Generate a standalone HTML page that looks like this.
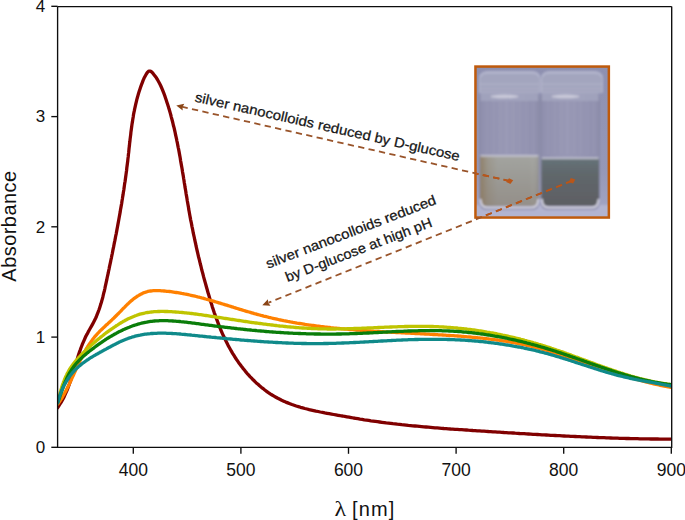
<!DOCTYPE html>
<html><head><meta charset="utf-8"><style>
html,body{margin:0;padding:0;background:#fff;width:685px;height:520px;overflow:hidden;font-family:"Liberation Sans",sans-serif;}
svg{display:block;}
</style></head><body>
<svg width="685" height="520" viewBox="0 0 685 520">
<rect width="685" height="520" fill="#fff"/>
<defs><clipPath id="pc"><rect x="57.6" y="6.6" width="614.1" height="440.7"/></clipPath>
<filter id="bl" x="-5%" y="-5%" width="110%" height="110%"><feGaussianBlur stdDeviation="0.8"/></filter>
<filter id="bl2"><feGaussianBlur stdDeviation="1.6"/></filter>
</defs>
<g clip-path="url(#pc)" fill="none" stroke-width="3.3" stroke-linejoin="round" stroke-linecap="round">
<path d="M57.4 408.0 L58.7 406.1 L59.9 404.2 L61.1 402.3 L62.2 400.4 L63.3 398.4 L64.3 396.4 L65.2 394.4 L66.1 392.4 L67.0 390.3 L67.8 388.3 L68.6 386.2 L69.4 384.1 L70.1 382.0 L70.8 379.9 L71.5 377.8 L72.2 375.6 L72.9 373.5 L73.5 371.4 L74.2 369.2 L74.8 367.1 L75.4 365.0 L76.1 362.8 L76.7 360.7 L77.4 358.5 L78.0 356.4 L78.7 354.3 L79.4 352.2 L80.2 350.1 L80.9 348.0 L81.7 346.0 L82.5 343.9 L83.4 341.9 L84.3 339.8 L85.2 337.8 L86.1 335.8 L87.2 333.9 L88.2 331.9 L89.3 330.0 L90.4 328.0 L91.5 326.1 L92.6 324.1 L93.6 322.2 L94.6 320.2 L95.6 318.2 L96.5 316.2 L97.3 314.1 L98.1 312.1 L98.9 310.0 L99.6 307.9 L100.3 305.8 L101.0 303.6 L101.6 301.5 L102.2 299.4 L102.8 297.2 L103.3 295.0 L103.8 292.9 L104.4 290.7 L104.9 288.5 L105.3 286.3 L105.8 284.1 L106.3 281.9 L106.8 279.7 L107.2 277.5 L107.7 275.3 L108.2 273.2 L108.6 271.0 L109.1 268.8 L109.5 266.6 L110.0 264.4 L110.5 262.2 L110.9 260.0 L111.4 257.8 L111.8 255.7 L112.3 253.5 L112.7 251.3 L113.1 249.1 L113.6 246.9 L114.0 244.7 L114.4 242.6 L114.9 240.4 L115.3 238.2 L115.7 236.0 L116.2 233.8 L116.6 231.6 L117.0 229.4 L117.4 227.3 L117.8 225.1 L118.2 222.9 L118.6 220.7 L119.0 218.5 L119.4 216.3 L119.8 214.1 L120.2 211.9 L120.5 209.8 L120.9 207.6 L121.3 205.4 L121.7 203.2 L122.0 201.0 L122.4 198.8 L122.7 196.6 L123.1 194.4 L123.4 192.2 L123.8 190.0 L124.1 187.8 L124.4 185.6 L124.7 183.4 L125.1 181.2 L125.4 179.0 L125.7 176.8 L126.0 174.6 L126.3 172.4 L126.6 170.2 L126.8 168.0 L127.1 165.7 L127.4 163.5 L127.7 161.3 L127.9 159.1 L128.2 156.9 L128.4 154.6 L128.7 152.4 L128.9 150.2 L129.1 148.0 L129.4 145.8 L129.6 143.5 L129.9 141.3 L130.1 139.1 L130.4 136.9 L130.7 134.6 L130.9 132.4 L131.2 130.2 L131.5 128.0 L131.8 125.8 L132.1 123.6 L132.5 121.4 L132.8 119.2 L133.2 117.0 L133.5 114.8 L133.9 112.6 L134.4 110.4 L134.8 108.3 L135.3 106.1 L135.8 103.9 L136.3 101.8 L136.8 99.6 L137.4 97.5 L138.0 95.4 L138.6 93.2 L139.3 91.1 L140.0 89.0 L140.7 86.8 L141.5 84.7 L142.3 82.6 L143.1 80.4 L144.0 78.3 L145.1 76.2 L146.2 74.2 L147.5 72.3 L148.9 71.1 L150.4 71.1 L151.9 72.2 L153.4 73.9 L154.8 75.7 L156.2 77.6 L157.4 79.5 L158.5 81.5 L159.6 83.5 L160.6 85.5 L161.5 87.5 L162.4 89.6 L163.2 91.7 L164.0 93.7 L164.8 95.8 L165.5 98.0 L166.2 100.1 L166.9 102.2 L167.6 104.3 L168.3 106.4 L168.9 108.6 L169.6 110.7 L170.2 112.9 L170.8 115.0 L171.3 117.1 L171.9 119.3 L172.5 121.5 L173.0 123.6 L173.5 125.8 L174.1 127.9 L174.6 130.1 L175.1 132.3 L175.5 134.5 L176.0 136.6 L176.5 138.8 L176.9 141.0 L177.4 143.2 L177.8 145.4 L178.2 147.5 L178.7 149.7 L179.1 151.9 L179.5 154.1 L179.9 156.3 L180.3 158.5 L180.6 160.7 L181.0 162.9 L181.4 165.1 L181.8 167.3 L182.2 169.5 L182.5 171.7 L182.9 173.9 L183.3 176.1 L183.6 178.3 L184.0 180.5 L184.3 182.7 L184.7 184.9 L185.0 187.1 L185.4 189.3 L185.8 191.5 L186.1 193.7 L186.5 195.9 L186.9 198.1 L187.2 200.3 L187.6 202.5 L188.0 204.7 L188.4 206.9 L188.7 209.1 L189.1 211.3 L189.5 213.5 L189.9 215.7 L190.3 217.9 L190.7 220.1 L191.2 222.3 L191.6 224.4 L192.0 226.6 L192.5 228.8 L192.9 231.0 L193.3 233.2 L193.8 235.3 L194.3 237.5 L194.7 239.7 L195.2 241.9 L195.7 244.0 L196.1 246.2 L196.6 248.4 L197.1 250.5 L197.6 252.7 L198.1 254.9 L198.6 257.0 L199.2 259.2 L199.7 261.3 L200.2 263.5 L200.8 265.7 L201.3 267.8 L201.8 270.0 L202.4 272.1 L203.0 274.3 L203.5 276.4 L204.1 278.6 L204.7 280.7 L205.3 282.9 L205.9 285.0 L206.5 287.2 L207.1 289.3 L207.7 291.5 L208.3 293.6 L209.0 295.8 L209.6 297.9 L210.2 300.0 L210.9 302.2 L211.6 304.3 L212.2 306.4 L212.9 308.6 L213.6 310.7 L214.3 312.8 L215.1 314.9 L215.8 317.0 L216.6 319.1 L217.4 321.2 L218.2 323.3 L219.0 325.4 L219.8 327.4 L220.6 329.5 L221.5 331.5 L222.4 333.6 L223.3 335.6 L224.3 337.6 L225.2 339.6 L226.2 341.6 L227.2 343.6 L228.2 345.6 L229.3 347.5 L230.4 349.5 L231.5 351.4 L232.6 353.3 L233.8 355.2 L235.0 357.1 L236.2 359.0 L237.5 360.9 L238.7 362.7 L240.1 364.5 L241.4 366.3 L242.8 368.1 L244.2 369.8 L245.6 371.6 L247.0 373.3 L248.5 374.9 L250.0 376.6 L251.6 378.2 L253.1 379.8 L254.7 381.3 L256.3 382.9 L258.0 384.3 L259.6 385.8 L261.3 387.2 L263.1 388.6 L264.8 390.0 L266.6 391.3 L268.4 392.6 L270.2 393.8 L272.1 395.0 L274.0 396.1 L275.9 397.2 L277.8 398.3 L279.8 399.3 L281.7 400.3 L283.7 401.2 L285.8 402.1 L287.8 402.9 L289.9 403.7 L292.0 404.5 L294.1 405.2 L296.2 406.0 L298.4 406.6 L300.5 407.3 L302.7 407.9 L304.8 408.5 L307.0 409.0 L309.2 409.6 L311.4 410.1 L313.6 410.6 L315.9 411.1 L318.1 411.5 L320.3 412.0 L322.5 412.4 L324.8 412.9 L327.0 413.3 L329.2 413.7 L331.5 414.1 L333.7 414.5 L335.9 414.9 L338.1 415.3 L340.3 415.7 L342.5 416.0 L344.7 416.4 L346.9 416.8 L349.1 417.2 L351.3 417.6 L353.5 418.0 L355.6 418.3 L357.8 418.7 L360.0 419.1 L362.2 419.4 L364.3 419.8 L366.5 420.1 L368.7 420.4 L370.9 420.8 L373.1 421.1 L375.3 421.4 L377.5 421.7 L379.7 422.0 L381.9 422.3 L384.1 422.6 L386.2 422.9 L388.5 423.1 L390.7 423.4 L392.9 423.7 L395.1 423.9 L397.3 424.2 L399.5 424.4 L401.7 424.7 L403.9 424.9 L406.1 425.1 L408.3 425.4 L410.5 425.6 L412.8 425.8 L415.0 426.0 L417.2 426.2 L419.4 426.4 L421.6 426.6 L423.9 426.8 L426.1 427.0 L428.3 427.2 L430.5 427.4 L432.8 427.6 L435.0 427.8 L437.2 427.9 L439.4 428.1 L441.7 428.3 L443.9 428.5 L446.1 428.6 L448.3 428.8 L450.6 429.0 L452.8 429.1 L455.0 429.3 L457.3 429.4 L459.5 429.6 L461.7 429.7 L464.0 429.9 L466.2 430.0 L468.4 430.2 L470.7 430.3 L472.9 430.5 L475.1 430.6 L477.3 430.8 L479.6 430.9 L481.8 431.1 L484.0 431.2 L486.3 431.3 L488.5 431.5 L490.7 431.6 L492.9 431.8 L495.2 431.9 L497.4 432.1 L499.6 432.2 L501.8 432.3 L504.1 432.5 L506.3 432.6 L508.5 432.8 L510.7 432.9 L513.0 433.0 L515.2 433.2 L517.4 433.3 L519.6 433.5 L521.9 433.6 L524.1 433.7 L526.3 433.9 L528.5 434.0 L530.8 434.1 L533.0 434.3 L535.2 434.4 L537.4 434.5 L539.7 434.6 L541.9 434.8 L544.1 434.9 L546.3 435.0 L548.5 435.1 L550.8 435.3 L553.0 435.4 L555.2 435.5 L557.4 435.6 L559.7 435.7 L561.9 435.9 L564.1 436.0 L566.3 436.1 L568.5 436.2 L570.8 436.3 L573.0 436.4 L575.2 436.5 L577.4 436.6 L579.7 436.7 L581.9 436.8 L584.1 436.9 L586.3 437.0 L588.5 437.1 L590.8 437.2 L593.0 437.3 L595.2 437.4 L597.4 437.5 L599.7 437.6 L601.9 437.7 L604.1 437.7 L606.3 437.8 L608.6 437.9 L610.8 438.0 L613.0 438.1 L615.2 438.1 L617.5 438.2 L619.7 438.3 L621.9 438.3 L624.2 438.4 L626.4 438.5 L628.6 438.5 L630.8 438.6 L633.1 438.6 L635.3 438.7 L637.5 438.7 L639.8 438.8 L642.0 438.8 L644.2 438.9 L646.5 438.9 L648.7 438.9 L650.9 439.0 L653.1 439.0 L655.4 439.0 L657.6 439.0 L659.9 439.1 L662.1 439.1 L664.3 439.1 L666.6 439.1 L668.8 439.1 L671.0 439.1" stroke="#800000"/>
<path d="M58.0 403.9 L58.7 402.8 L59.5 401.7 L60.2 400.6 L61.0 399.4 L61.7 398.3 L62.4 397.1 L63.0 396.0 L63.7 394.8 L64.4 393.6 L65.0 392.4 L65.7 391.2 L66.3 390.0 L66.9 388.8 L67.5 387.6 L68.2 386.4 L68.8 385.1 L69.4 383.9 L69.9 382.7 L70.5 381.4 L71.1 380.2 L71.7 378.9 L72.2 377.7 L72.8 376.4 L73.4 375.2 L74.0 373.9 L74.5 372.7 L75.1 371.4 L75.7 370.2 L76.2 368.9 L76.8 367.6 L77.4 366.4 L77.9 365.1 L78.5 363.9 L79.1 362.7 L79.7 361.4 L80.3 360.2 L80.9 359.0 L81.5 357.7 L82.1 356.5 L82.8 355.3 L83.4 354.1 L84.0 352.9 L84.7 351.7 L85.4 350.5 L86.0 349.4 L86.7 348.2 L87.4 347.1 L88.1 345.9 L88.9 344.8 L89.6 343.7 L90.4 342.6 L91.2 341.5 L92.0 340.4 L92.8 339.3 L93.6 338.2 L94.4 337.2 L95.3 336.2 L96.2 335.2 L97.1 334.1 L98.0 333.2 L99.0 332.2 L99.9 331.2 L100.9 330.2 L101.9 329.3 L102.8 328.3 L103.8 327.4 L104.8 326.5 L105.8 325.5 L106.8 324.6 L107.9 323.7 L108.9 322.7 L109.9 321.8 L110.9 320.8 L111.9 319.9 L112.9 318.9 L113.9 318.0 L114.9 317.0 L115.9 316.0 L116.9 315.0 L117.9 314.1 L118.8 313.1 L119.8 312.1 L120.8 311.1 L121.7 310.1 L122.7 309.0 L123.7 308.1 L124.7 307.1 L125.6 306.1 L126.6 305.1 L127.6 304.1 L128.7 303.2 L129.7 302.2 L130.7 301.3 L131.8 300.4 L132.8 299.5 L133.9 298.7 L135.0 297.9 L136.1 297.1 L137.2 296.3 L138.4 295.6 L139.5 294.9 L140.7 294.3 L141.9 293.7 L143.1 293.1 L144.3 292.6 L145.5 292.2 L146.8 291.8 L148.0 291.4 L149.3 291.2 L150.6 291.0 L152.0 290.8 L153.3 290.7 L154.6 290.6 L156.0 290.6 L157.3 290.6 L158.7 290.7 L160.1 290.7 L161.4 290.8 L162.8 290.9 L164.1 291.0 L165.5 291.1 L166.8 291.3 L168.2 291.4 L169.5 291.5 L170.9 291.7 L172.2 291.9 L173.6 292.1 L174.9 292.3 L176.3 292.5 L177.6 292.7 L179.0 292.9 L180.3 293.1 L181.6 293.4 L183.0 293.6 L184.3 293.9 L185.7 294.1 L187.0 294.4 L188.3 294.7 L189.7 295.0 L191.0 295.3 L192.3 295.6 L193.6 295.9 L195.0 296.2 L196.3 296.5 L197.6 296.9 L199.0 297.2 L200.3 297.5 L201.6 297.9 L202.9 298.2 L204.3 298.6 L205.6 299.0 L206.9 299.3 L208.2 299.7 L209.5 300.1 L210.9 300.4 L212.2 300.8 L213.5 301.2 L214.8 301.6 L216.1 302.0 L217.5 302.4 L218.8 302.8 L220.1 303.2 L221.4 303.6 L222.7 304.0 L224.0 304.4 L225.4 304.8 L226.7 305.2 L228.0 305.6 L229.3 306.0 L230.6 306.4 L231.9 306.8 L233.3 307.2 L234.6 307.7 L235.9 308.1 L237.2 308.5 L238.5 308.9 L239.8 309.3 L241.2 309.7 L242.5 310.1 L243.8 310.5 L245.1 310.9 L246.4 311.3 L247.7 311.7 L249.1 312.0 L250.4 312.4 L251.7 312.8 L253.0 313.2 L254.3 313.6 L255.7 313.9 L257.0 314.3 L258.3 314.7 L259.6 315.0 L261.0 315.4 L262.3 315.7 L263.6 316.1 L265.0 316.4 L266.3 316.7 L267.6 317.0 L268.9 317.4 L270.3 317.7 L271.6 318.0 L272.9 318.3 L274.3 318.6 L275.6 318.9 L276.9 319.2 L278.3 319.5 L279.6 319.8 L280.9 320.0 L282.3 320.3 L283.6 320.6 L285.0 320.8 L286.3 321.1 L287.6 321.4 L289.0 321.6 L290.3 321.9 L291.7 322.1 L293.0 322.4 L294.3 322.6 L295.7 322.8 L297.0 323.1 L298.4 323.3 L299.7 323.5 L301.1 323.7 L302.4 323.9 L303.8 324.1 L305.1 324.4 L306.4 324.6 L307.8 324.8 L309.1 325.0 L310.5 325.1 L311.8 325.3 L313.2 325.5 L314.5 325.7 L315.9 325.9 L317.2 326.1 L318.6 326.2 L319.9 326.4 L321.3 326.6 L322.7 326.7 L324.0 326.9 L325.4 327.1 L326.7 327.2 L328.1 327.4 L329.4 327.5 L330.8 327.7 L332.1 327.8 L333.5 328.0 L334.9 328.1 L336.2 328.2 L337.6 328.4 L338.9 328.5 L340.3 328.6 L341.6 328.8 L343.0 328.9 L344.4 329.0 L345.7 329.1 L347.1 329.2 L348.4 329.4 L349.8 329.5 L351.2 329.6 L352.5 329.7 L353.9 329.8 L355.3 329.9 L356.6 330.0 L358.0 330.1 L359.3 330.2 L360.7 330.3 L362.1 330.4 L363.4 330.5 L364.8 330.6 L366.2 330.7 L367.5 330.8 L368.9 330.9 L370.3 331.0 L371.6 331.1 L373.0 331.2 L374.4 331.3 L375.7 331.3 L377.1 331.4 L378.5 331.5 L379.8 331.6 L381.2 331.7 L382.5 331.7 L383.9 331.8 L385.3 331.9 L386.6 332.0 L388.0 332.1 L389.4 332.1 L390.8 332.2 L392.1 332.3 L393.5 332.4 L394.9 332.4 L396.2 332.5 L397.6 332.6 L399.0 332.6 L400.3 332.7 L401.7 332.8 L403.1 332.9 L404.4 332.9 L405.8 333.0 L407.2 333.1 L408.5 333.1 L409.9 333.2 L411.3 333.3 L412.6 333.4 L414.0 333.4 L415.4 333.5 L416.7 333.6 L418.1 333.6 L419.5 333.7 L420.8 333.8 L422.2 333.9 L423.6 333.9 L424.9 334.0 L426.3 334.1 L427.7 334.1 L429.0 334.2 L430.4 334.3 L431.8 334.4 L433.2 334.5 L434.5 334.5 L435.9 334.6 L437.3 334.7 L438.6 334.8 L440.0 334.9 L441.4 334.9 L442.7 335.0 L444.1 335.1 L445.4 335.2 L446.8 335.3 L448.2 335.4 L449.5 335.5 L450.9 335.6 L452.3 335.7 L453.6 335.7 L455.0 335.8 L456.4 335.9 L457.7 336.0 L459.1 336.1 L460.5 336.2 L461.8 336.4 L463.2 336.5 L464.5 336.6 L465.9 336.7 L467.3 336.8 L468.6 336.9 L470.0 337.0 L471.4 337.1 L472.7 337.3 L474.1 337.4 L475.4 337.5 L476.8 337.6 L478.2 337.8 L479.5 337.9 L480.9 338.1 L482.2 338.2 L483.6 338.3 L484.9 338.5 L486.3 338.6 L487.7 338.8 L489.0 339.0 L490.4 339.1 L491.7 339.3 L493.1 339.5 L494.4 339.6 L495.8 339.8 L497.1 340.0 L498.5 340.2 L499.8 340.4 L501.2 340.6 L502.5 340.8 L503.9 341.0 L505.2 341.2 L506.6 341.4 L507.9 341.6 L509.3 341.8 L510.6 342.1 L511.9 342.3 L513.3 342.5 L514.6 342.8 L516.0 343.0 L517.3 343.3 L518.6 343.6 L520.0 343.8 L521.3 344.1 L522.7 344.4 L524.0 344.7 L525.3 345.0 L526.7 345.3 L528.0 345.6 L529.3 345.9 L530.6 346.2 L532.0 346.5 L533.3 346.8 L534.6 347.2 L536.0 347.5 L537.3 347.9 L538.6 348.2 L539.9 348.6 L541.2 348.9 L542.6 349.3 L543.9 349.7 L545.2 350.0 L546.5 350.4 L547.8 350.8 L549.2 351.2 L550.5 351.6 L551.8 352.0 L553.1 352.4 L554.4 352.8 L555.7 353.2 L557.0 353.6 L558.3 354.0 L559.7 354.4 L561.0 354.8 L562.3 355.2 L563.6 355.6 L564.9 356.1 L566.2 356.5 L567.5 356.9 L568.8 357.3 L570.1 357.8 L571.4 358.2 L572.7 358.6 L574.0 359.1 L575.3 359.5 L576.6 359.9 L577.9 360.4 L579.2 360.8 L580.5 361.3 L581.8 361.7 L583.1 362.1 L584.4 362.6 L585.7 363.0 L587.0 363.4 L588.3 363.9 L589.6 364.3 L590.9 364.8 L592.2 365.2 L593.5 365.6 L594.7 366.1 L596.0 366.5 L597.3 367.0 L598.6 367.4 L599.9 367.8 L601.2 368.3 L602.5 368.7 L603.8 369.1 L605.1 369.6 L606.4 370.0 L607.7 370.4 L609.0 370.9 L610.3 371.3 L611.6 371.7 L612.9 372.1 L614.2 372.5 L615.5 373.0 L616.8 373.4 L618.1 373.8 L619.4 374.2 L620.7 374.6 L622.0 375.0 L623.3 375.4 L624.6 375.8 L625.9 376.2 L627.2 376.6 L628.5 377.0 L629.8 377.4 L631.1 377.8 L632.4 378.2 L633.7 378.5 L635.1 378.9 L636.4 379.3 L637.7 379.7 L639.0 380.0 L640.3 380.4 L641.6 380.7 L642.9 381.1 L644.3 381.4 L645.6 381.8 L646.9 382.1 L648.2 382.5 L649.6 382.8 L650.9 383.1 L652.2 383.4 L653.6 383.8 L654.9 384.1 L656.2 384.4 L657.6 384.7 L658.9 385.0 L660.2 385.3 L661.6 385.6 L662.9 385.8 L664.3 386.1 L665.6 386.4 L667.0 386.6 L668.3 386.9 L669.7 387.1 L671.0 387.4" stroke="#ff8000"/>
<path d="M58.3 400.2 L58.6 398.9 L58.9 397.5 L59.2 396.2 L59.6 394.9 L59.9 393.6 L60.3 392.3 L60.6 391.0 L61.0 389.7 L61.4 388.4 L61.8 387.1 L62.2 385.8 L62.6 384.5 L63.1 383.3 L63.5 382.0 L64.0 380.8 L64.5 379.5 L65.0 378.3 L65.5 377.1 L66.1 375.9 L66.7 374.7 L67.2 373.5 L67.9 372.3 L68.5 371.2 L69.1 370.1 L69.8 368.9 L70.5 367.8 L71.3 366.8 L72.0 365.7 L72.8 364.6 L73.6 363.6 L74.4 362.5 L75.2 361.5 L76.0 360.5 L76.9 359.5 L77.8 358.5 L78.7 357.5 L79.6 356.6 L80.5 355.6 L81.4 354.7 L82.3 353.7 L83.2 352.8 L84.2 351.8 L85.2 350.9 L86.1 350.0 L87.1 349.1 L88.0 348.2 L89.0 347.3 L90.0 346.4 L91.0 345.5 L92.0 344.6 L93.0 343.7 L94.0 342.8 L95.0 341.9 L96.0 341.1 L97.0 340.2 L98.0 339.4 L99.1 338.5 L100.1 337.7 L101.1 336.8 L102.2 336.0 L103.2 335.2 L104.3 334.3 L105.3 333.5 L106.4 332.7 L107.5 331.9 L108.6 331.1 L109.6 330.4 L110.7 329.6 L111.8 328.8 L112.9 328.1 L114.0 327.3 L115.1 326.6 L116.2 325.8 L117.4 325.1 L118.5 324.4 L119.6 323.7 L120.7 323.0 L121.9 322.3 L123.0 321.6 L124.2 321.0 L125.4 320.3 L126.5 319.7 L127.7 319.1 L128.9 318.5 L130.1 318.0 L131.3 317.4 L132.5 316.9 L133.7 316.4 L134.9 315.9 L136.2 315.5 L137.4 315.0 L138.6 314.6 L139.9 314.2 L141.2 313.9 L142.4 313.6 L143.7 313.3 L145.0 313.0 L146.3 312.7 L147.6 312.5 L148.9 312.3 L150.2 312.1 L151.5 312.0 L152.8 311.9 L154.1 311.7 L155.5 311.6 L156.8 311.6 L158.1 311.5 L159.5 311.5 L160.8 311.4 L162.1 311.4 L163.5 311.4 L164.8 311.5 L166.2 311.5 L167.5 311.5 L168.8 311.6 L170.2 311.6 L171.5 311.7 L172.9 311.8 L174.2 311.9 L175.5 312.0 L176.9 312.1 L178.2 312.2 L179.5 312.3 L180.9 312.4 L182.2 312.5 L183.5 312.6 L184.8 312.8 L186.2 312.9 L187.5 313.1 L188.8 313.2 L190.1 313.4 L191.5 313.5 L192.8 313.7 L194.1 313.9 L195.4 314.0 L196.7 314.2 L198.1 314.4 L199.4 314.6 L200.7 314.7 L202.0 314.9 L203.3 315.1 L204.7 315.3 L206.0 315.5 L207.3 315.7 L208.6 315.9 L209.9 316.1 L211.2 316.3 L212.6 316.5 L213.9 316.7 L215.2 316.9 L216.5 317.1 L217.8 317.3 L219.1 317.5 L220.5 317.7 L221.8 317.9 L223.1 318.1 L224.4 318.3 L225.7 318.5 L227.0 318.7 L228.4 318.9 L229.7 319.1 L231.0 319.3 L232.3 319.5 L233.6 319.7 L234.9 319.9 L236.3 320.1 L237.6 320.3 L238.9 320.5 L240.2 320.7 L241.5 320.9 L242.8 321.1 L244.2 321.3 L245.5 321.5 L246.8 321.7 L248.1 321.9 L249.4 322.1 L250.8 322.3 L252.1 322.5 L253.4 322.6 L254.7 322.8 L256.0 323.0 L257.4 323.2 L258.7 323.4 L260.0 323.5 L261.3 323.7 L262.6 323.9 L264.0 324.1 L265.3 324.2 L266.6 324.4 L267.9 324.6 L269.2 324.7 L270.6 324.9 L271.9 325.0 L273.2 325.2 L274.5 325.4 L275.8 325.5 L277.2 325.7 L278.5 325.8 L279.8 326.0 L281.1 326.1 L282.5 326.2 L283.8 326.4 L285.1 326.5 L286.4 326.6 L287.7 326.8 L289.1 326.9 L290.4 327.0 L291.7 327.1 L293.0 327.2 L294.4 327.4 L295.7 327.5 L297.0 327.6 L298.3 327.7 L299.7 327.8 L301.0 327.9 L302.3 328.0 L303.6 328.0 L305.0 328.1 L306.3 328.2 L307.6 328.3 L308.9 328.4 L310.3 328.4 L311.6 328.5 L312.9 328.6 L314.3 328.6 L315.6 328.7 L316.9 328.7 L318.2 328.8 L319.6 328.8 L320.9 328.8 L322.2 328.9 L323.6 328.9 L324.9 328.9 L326.2 328.9 L327.5 329.0 L328.9 329.0 L330.2 329.0 L331.5 329.0 L332.9 329.0 L334.2 329.0 L335.5 329.0 L336.9 328.9 L338.2 328.9 L339.5 328.9 L340.9 328.9 L342.2 328.9 L343.5 328.8 L344.9 328.8 L346.2 328.8 L347.5 328.7 L348.9 328.7 L350.2 328.7 L351.5 328.6 L352.9 328.6 L354.2 328.5 L355.5 328.5 L356.9 328.4 L358.2 328.4 L359.5 328.3 L360.9 328.3 L362.2 328.2 L363.5 328.2 L364.9 328.1 L366.2 328.1 L367.5 328.0 L368.9 327.9 L370.2 327.9 L371.5 327.8 L372.9 327.8 L374.2 327.7 L375.5 327.6 L376.9 327.6 L378.2 327.5 L379.5 327.5 L380.9 327.4 L382.2 327.3 L383.5 327.3 L384.9 327.2 L386.2 327.2 L387.5 327.1 L388.9 327.1 L390.2 327.0 L391.6 327.0 L392.9 326.9 L394.2 326.9 L395.6 326.8 L396.9 326.8 L398.2 326.7 L399.6 326.7 L400.9 326.6 L402.2 326.6 L403.6 326.6 L404.9 326.5 L406.2 326.5 L407.6 326.5 L408.9 326.4 L410.2 326.4 L411.6 326.4 L412.9 326.4 L414.2 326.4 L415.6 326.3 L416.9 326.3 L418.2 326.3 L419.5 326.3 L420.9 326.3 L422.2 326.3 L423.5 326.3 L424.9 326.4 L426.2 326.4 L427.5 326.4 L428.9 326.4 L430.2 326.5 L431.5 326.5 L432.9 326.5 L434.2 326.6 L435.5 326.6 L436.8 326.7 L438.2 326.7 L439.5 326.8 L440.8 326.9 L442.2 326.9 L443.5 327.0 L444.8 327.1 L446.1 327.2 L447.5 327.3 L448.8 327.4 L450.1 327.5 L451.4 327.6 L452.8 327.7 L454.1 327.8 L455.4 327.9 L456.7 328.0 L458.1 328.2 L459.4 328.3 L460.7 328.4 L462.0 328.6 L463.3 328.7 L464.7 328.9 L466.0 329.0 L467.3 329.2 L468.6 329.3 L469.9 329.5 L471.3 329.7 L472.6 329.9 L473.9 330.0 L475.2 330.2 L476.5 330.4 L477.8 330.6 L479.2 330.8 L480.5 331.0 L481.8 331.2 L483.1 331.4 L484.4 331.6 L485.7 331.8 L487.0 332.1 L488.3 332.3 L489.6 332.5 L491.0 332.8 L492.3 333.0 L493.6 333.2 L494.9 333.5 L496.2 333.7 L497.5 334.0 L498.8 334.3 L500.1 334.5 L501.4 334.8 L502.7 335.1 L504.0 335.3 L505.3 335.6 L506.6 335.9 L507.9 336.2 L509.2 336.5 L510.5 336.8 L511.8 337.1 L513.1 337.4 L514.4 337.7 L515.7 338.0 L517.0 338.3 L518.3 338.6 L519.6 338.9 L520.8 339.3 L522.1 339.6 L523.4 339.9 L524.7 340.3 L526.0 340.6 L527.3 341.0 L528.6 341.3 L529.8 341.7 L531.1 342.0 L532.4 342.4 L533.7 342.8 L535.0 343.1 L536.3 343.5 L537.5 343.9 L538.8 344.3 L540.1 344.6 L541.4 345.0 L542.6 345.4 L543.9 345.8 L545.2 346.2 L546.4 346.6 L547.7 347.0 L549.0 347.4 L550.2 347.8 L551.5 348.3 L552.8 348.7 L554.0 349.1 L555.3 349.5 L556.6 350.0 L557.8 350.4 L559.1 350.8 L560.3 351.3 L561.6 351.7 L562.9 352.1 L564.1 352.6 L565.4 353.0 L566.6 353.5 L567.9 353.9 L569.1 354.4 L570.4 354.8 L571.6 355.3 L572.9 355.8 L574.1 356.2 L575.4 356.7 L576.6 357.1 L577.9 357.6 L579.1 358.1 L580.4 358.5 L581.6 359.0 L582.9 359.4 L584.1 359.9 L585.4 360.4 L586.6 360.8 L587.9 361.3 L589.1 361.8 L590.4 362.2 L591.6 362.7 L592.9 363.1 L594.1 363.6 L595.4 364.1 L596.6 364.5 L597.9 365.0 L599.1 365.4 L600.4 365.9 L601.7 366.3 L602.9 366.8 L604.2 367.2 L605.4 367.7 L606.7 368.1 L607.9 368.6 L609.2 369.0 L610.4 369.4 L611.7 369.9 L613.0 370.3 L614.2 370.7 L615.5 371.1 L616.7 371.6 L618.0 372.0 L619.3 372.4 L620.5 372.8 L621.8 373.2 L623.1 373.6 L624.3 374.0 L625.6 374.4 L626.9 374.8 L628.1 375.2 L629.4 375.6 L630.7 376.0 L632.0 376.3 L633.2 376.7 L634.5 377.1 L635.8 377.4 L637.1 377.8 L638.4 378.1 L639.7 378.5 L640.9 378.8 L642.2 379.1 L643.5 379.4 L644.8 379.8 L646.1 380.1 L647.4 380.4 L648.7 380.7 L650.0 381.0 L651.3 381.3 L652.6 381.5 L653.9 381.8 L655.2 382.1 L656.5 382.3 L657.9 382.6 L659.2 382.8 L660.5 383.1 L661.8 383.3 L663.1 383.5 L664.5 383.7 L665.8 383.9 L667.1 384.1 L668.4 384.3 L669.8 384.5 L671.1 384.6" stroke="#bfc400"/>
<path d="M58.3 401.2 L58.7 399.9 L59.2 398.7 L59.6 397.4 L60.0 396.1 L60.4 394.9 L60.9 393.6 L61.3 392.4 L61.7 391.1 L62.2 389.9 L62.6 388.6 L63.1 387.4 L63.5 386.1 L64.0 384.9 L64.5 383.7 L65.0 382.4 L65.5 381.2 L66.1 380.0 L66.6 378.8 L67.2 377.6 L67.7 376.5 L68.3 375.3 L68.9 374.1 L69.6 373.0 L70.2 371.9 L70.9 370.8 L71.6 369.7 L72.3 368.6 L73.0 367.6 L73.8 366.5 L74.6 365.5 L75.4 364.5 L76.2 363.5 L77.1 362.5 L78.0 361.6 L78.9 360.6 L79.8 359.7 L80.7 358.8 L81.7 357.9 L82.6 357.0 L83.6 356.1 L84.6 355.2 L85.6 354.4 L86.6 353.5 L87.7 352.7 L88.7 351.8 L89.7 351.0 L90.8 350.2 L91.8 349.4 L92.9 348.6 L94.0 347.8 L95.0 347.0 L96.1 346.2 L97.2 345.4 L98.2 344.7 L99.3 343.9 L100.4 343.1 L101.5 342.4 L102.6 341.6 L103.7 340.9 L104.8 340.2 L105.9 339.4 L107.0 338.7 L108.1 338.0 L109.2 337.3 L110.4 336.6 L111.5 336.0 L112.6 335.3 L113.8 334.7 L114.9 334.0 L116.1 333.4 L117.2 332.8 L118.4 332.1 L119.6 331.5 L120.8 331.0 L121.9 330.4 L123.1 329.8 L124.3 329.3 L125.5 328.7 L126.7 328.2 L127.9 327.7 L129.2 327.2 L130.4 326.7 L131.6 326.3 L132.9 325.8 L134.1 325.4 L135.3 325.0 L136.6 324.6 L137.8 324.2 L139.1 323.8 L140.4 323.5 L141.6 323.2 L142.9 322.9 L144.2 322.6 L145.4 322.3 L146.7 322.1 L148.0 321.8 L149.3 321.6 L150.6 321.4 L151.9 321.3 L153.2 321.1 L154.5 321.0 L155.8 320.9 L157.1 320.8 L158.4 320.8 L159.7 320.7 L161.0 320.7 L162.3 320.7 L163.6 320.6 L164.9 320.7 L166.2 320.7 L167.6 320.7 L168.9 320.8 L170.2 320.8 L171.5 320.9 L172.8 321.0 L174.2 321.1 L175.5 321.2 L176.8 321.3 L178.1 321.4 L179.5 321.5 L180.8 321.7 L182.1 321.8 L183.4 321.9 L184.8 322.1 L186.1 322.2 L187.4 322.4 L188.7 322.6 L190.1 322.7 L191.4 322.9 L192.7 323.1 L194.0 323.2 L195.4 323.4 L196.7 323.6 L198.0 323.7 L199.3 323.9 L200.6 324.1 L201.9 324.3 L203.3 324.4 L204.6 324.6 L205.9 324.8 L207.2 324.9 L208.5 325.1 L209.8 325.3 L211.1 325.4 L212.4 325.6 L213.7 325.8 L215.0 326.0 L216.4 326.1 L217.7 326.3 L219.0 326.5 L220.3 326.6 L221.6 326.8 L222.9 326.9 L224.2 327.1 L225.5 327.3 L226.8 327.4 L228.1 327.6 L229.4 327.7 L230.7 327.9 L232.0 328.1 L233.3 328.2 L234.6 328.4 L235.9 328.5 L237.2 328.7 L238.5 328.8 L239.9 328.9 L241.2 329.1 L242.5 329.2 L243.8 329.4 L245.1 329.5 L246.4 329.6 L247.7 329.8 L249.0 329.9 L250.3 330.0 L251.6 330.2 L252.9 330.3 L254.2 330.4 L255.5 330.5 L256.8 330.7 L258.2 330.8 L259.5 330.9 L260.8 331.0 L262.1 331.1 L263.4 331.2 L264.7 331.4 L266.0 331.5 L267.3 331.6 L268.6 331.7 L269.9 331.8 L271.3 331.9 L272.6 332.0 L273.9 332.1 L275.2 332.2 L276.5 332.3 L277.8 332.3 L279.1 332.4 L280.4 332.5 L281.7 332.6 L283.1 332.7 L284.4 332.8 L285.7 332.8 L287.0 332.9 L288.3 333.0 L289.6 333.1 L290.9 333.1 L292.3 333.2 L293.6 333.3 L294.9 333.3 L296.2 333.4 L297.5 333.4 L298.8 333.5 L300.1 333.5 L301.5 333.6 L302.8 333.6 L304.1 333.7 L305.4 333.7 L306.7 333.8 L308.0 333.8 L309.3 333.8 L310.7 333.9 L312.0 333.9 L313.3 333.9 L314.6 334.0 L315.9 334.0 L317.2 334.0 L318.6 334.0 L319.9 334.0 L321.2 334.1 L322.5 334.1 L323.8 334.1 L325.1 334.1 L326.5 334.1 L327.8 334.1 L329.1 334.1 L330.4 334.1 L331.7 334.1 L333.0 334.1 L334.4 334.1 L335.7 334.1 L337.0 334.0 L338.3 334.0 L339.6 334.0 L341.0 334.0 L342.3 333.9 L343.6 333.9 L344.9 333.9 L346.2 333.9 L347.5 333.8 L348.9 333.8 L350.2 333.7 L351.5 333.7 L352.8 333.6 L354.1 333.6 L355.5 333.5 L356.8 333.5 L358.1 333.4 L359.4 333.4 L360.7 333.3 L362.1 333.3 L363.4 333.2 L364.7 333.1 L366.0 333.1 L367.3 333.0 L368.7 333.0 L370.0 332.9 L371.3 332.8 L372.6 332.8 L373.9 332.7 L375.3 332.6 L376.6 332.6 L377.9 332.5 L379.2 332.4 L380.5 332.3 L381.9 332.3 L383.2 332.2 L384.5 332.1 L385.8 332.1 L387.1 332.0 L388.5 331.9 L389.8 331.9 L391.1 331.8 L392.4 331.7 L393.7 331.7 L395.1 331.6 L396.4 331.5 L397.7 331.5 L399.0 331.4 L400.3 331.4 L401.7 331.3 L403.0 331.3 L404.3 331.2 L405.6 331.1 L406.9 331.1 L408.3 331.0 L409.6 331.0 L410.9 331.0 L412.2 330.9 L413.5 330.9 L414.8 330.8 L416.2 330.8 L417.5 330.8 L418.8 330.7 L420.1 330.7 L421.4 330.7 L422.8 330.7 L424.1 330.6 L425.4 330.6 L426.7 330.6 L428.0 330.6 L429.3 330.6 L430.7 330.6 L432.0 330.6 L433.3 330.6 L434.6 330.6 L435.9 330.6 L437.2 330.6 L438.5 330.7 L439.9 330.7 L441.2 330.7 L442.5 330.8 L443.8 330.8 L445.1 330.8 L446.4 330.9 L447.7 330.9 L449.1 331.0 L450.4 331.1 L451.7 331.1 L453.0 331.2 L454.3 331.3 L455.6 331.4 L456.9 331.4 L458.2 331.5 L459.5 331.6 L460.9 331.7 L462.2 331.8 L463.5 332.0 L464.8 332.1 L466.1 332.2 L467.4 332.3 L468.7 332.5 L470.0 332.6 L471.3 332.7 L472.6 332.9 L473.9 333.0 L475.2 333.2 L476.5 333.3 L477.9 333.5 L479.2 333.7 L480.5 333.8 L481.8 334.0 L483.1 334.2 L484.4 334.4 L485.7 334.6 L487.0 334.8 L488.3 335.0 L489.6 335.2 L490.9 335.4 L492.2 335.6 L493.5 335.8 L494.8 336.1 L496.1 336.3 L497.4 336.5 L498.6 336.7 L499.9 337.0 L501.2 337.2 L502.5 337.5 L503.8 337.7 L505.1 338.0 L506.4 338.2 L507.7 338.5 L509.0 338.8 L510.3 339.1 L511.6 339.3 L512.8 339.6 L514.1 339.9 L515.4 340.2 L516.7 340.5 L518.0 340.8 L519.3 341.1 L520.6 341.4 L521.8 341.7 L523.1 342.0 L524.4 342.3 L525.7 342.6 L526.9 343.0 L528.2 343.3 L529.5 343.6 L530.8 344.0 L532.0 344.3 L533.3 344.7 L534.6 345.0 L535.9 345.3 L537.1 345.7 L538.4 346.1 L539.7 346.4 L540.9 346.8 L542.2 347.2 L543.5 347.5 L544.7 347.9 L546.0 348.3 L547.3 348.7 L548.5 349.1 L549.8 349.4 L551.0 349.8 L552.3 350.2 L553.5 350.6 L554.8 351.0 L556.1 351.4 L557.3 351.9 L558.6 352.3 L559.8 352.7 L561.1 353.1 L562.3 353.5 L563.6 353.9 L564.8 354.4 L566.1 354.8 L567.3 355.2 L568.5 355.6 L569.8 356.1 L571.0 356.5 L572.3 356.9 L573.5 357.4 L574.8 357.8 L576.0 358.2 L577.3 358.7 L578.5 359.1 L579.7 359.6 L581.0 360.0 L582.2 360.4 L583.5 360.9 L584.7 361.3 L586.0 361.7 L587.2 362.2 L588.4 362.6 L589.7 363.1 L590.9 363.5 L592.2 363.9 L593.4 364.4 L594.7 364.8 L595.9 365.2 L597.1 365.7 L598.4 366.1 L599.6 366.5 L600.9 367.0 L602.1 367.4 L603.4 367.8 L604.6 368.3 L605.9 368.7 L607.1 369.1 L608.4 369.5 L609.6 369.9 L610.9 370.3 L612.1 370.8 L613.4 371.2 L614.6 371.6 L615.9 372.0 L617.1 372.4 L618.4 372.8 L619.6 373.2 L620.9 373.5 L622.1 373.9 L623.4 374.3 L624.7 374.7 L625.9 375.1 L627.2 375.4 L628.4 375.8 L629.7 376.1 L631.0 376.5 L632.2 376.9 L633.5 377.2 L634.8 377.5 L636.1 377.9 L637.3 378.2 L638.6 378.5 L639.9 378.9 L641.2 379.2 L642.4 379.5 L643.7 379.8 L645.0 380.1 L646.3 380.4 L647.6 380.7 L648.9 381.0 L650.2 381.2 L651.5 381.5 L652.8 381.8 L654.1 382.0 L655.4 382.3 L656.7 382.5 L658.0 382.7 L659.3 383.0 L660.6 383.2 L661.9 383.4 L663.2 383.6 L664.5 383.8 L665.8 384.0 L667.2 384.2 L668.5 384.3 L669.8 384.5 L671.1 384.7" stroke="#0a7d0a"/>
<path d="M57.9 402.7 L58.2 401.4 L58.5 400.1 L58.8 398.9 L59.2 397.6 L59.6 396.3 L60.0 395.1 L60.5 393.9 L60.9 392.6 L61.4 391.4 L61.9 390.2 L62.4 389.0 L63.0 387.8 L63.5 386.6 L64.1 385.4 L64.7 384.3 L65.4 383.1 L66.0 382.0 L66.7 380.9 L67.4 379.8 L68.1 378.7 L68.8 377.6 L69.5 376.6 L70.3 375.5 L71.1 374.5 L71.9 373.5 L72.7 372.5 L73.6 371.6 L74.4 370.6 L75.3 369.7 L76.2 368.8 L77.1 367.9 L78.1 367.1 L79.0 366.2 L80.0 365.4 L81.0 364.6 L82.0 363.8 L83.0 363.0 L84.0 362.3 L85.1 361.5 L86.1 360.8 L87.2 360.0 L88.3 359.3 L89.3 358.6 L90.4 357.9 L91.5 357.3 L92.6 356.6 L93.8 355.9 L94.9 355.3 L96.0 354.6 L97.2 354.0 L98.3 353.3 L99.5 352.7 L100.6 352.0 L101.8 351.4 L102.9 350.8 L104.1 350.1 L105.3 349.5 L106.4 348.9 L107.6 348.2 L108.8 347.6 L110.0 347.0 L111.1 346.3 L112.3 345.7 L113.5 345.1 L114.7 344.5 L115.8 343.9 L117.0 343.3 L118.2 342.7 L119.4 342.1 L120.6 341.6 L121.8 341.0 L123.0 340.5 L124.2 340.0 L125.4 339.5 L126.6 339.0 L127.8 338.6 L129.0 338.1 L130.2 337.7 L131.5 337.3 L132.7 336.9 L133.9 336.6 L135.2 336.2 L136.4 335.9 L137.6 335.6 L138.9 335.3 L140.1 335.1 L141.4 334.8 L142.6 334.6 L143.9 334.4 L145.1 334.2 L146.4 334.1 L147.7 333.9 L148.9 333.8 L150.2 333.7 L151.5 333.5 L152.7 333.5 L154.0 333.4 L155.3 333.3 L156.6 333.3 L157.9 333.2 L159.2 333.2 L160.4 333.2 L161.7 333.2 L163.0 333.2 L164.3 333.2 L165.6 333.2 L166.9 333.3 L168.2 333.3 L169.5 333.4 L170.8 333.4 L172.1 333.5 L173.4 333.6 L174.7 333.6 L176.0 333.7 L177.3 333.8 L178.6 333.9 L179.9 334.0 L181.2 334.2 L182.5 334.3 L183.8 334.4 L185.1 334.5 L186.5 334.6 L187.8 334.8 L189.1 334.9 L190.4 335.0 L191.7 335.2 L193.0 335.3 L194.3 335.4 L195.6 335.6 L196.9 335.7 L198.2 335.8 L199.5 336.0 L200.8 336.1 L202.1 336.2 L203.4 336.4 L204.7 336.5 L206.0 336.6 L207.3 336.8 L208.6 336.9 L209.9 337.0 L211.2 337.2 L212.5 337.3 L213.9 337.4 L215.2 337.5 L216.5 337.7 L217.8 337.8 L219.1 337.9 L220.4 338.0 L221.7 338.2 L223.0 338.3 L224.3 338.4 L225.6 338.5 L226.9 338.7 L228.1 338.8 L229.4 338.9 L230.7 339.0 L232.0 339.1 L233.3 339.3 L234.6 339.4 L235.9 339.5 L237.2 339.6 L238.5 339.7 L239.8 339.8 L241.1 340.0 L242.4 340.1 L243.7 340.2 L245.0 340.3 L246.3 340.4 L247.6 340.5 L248.9 340.6 L250.2 340.7 L251.5 340.8 L252.8 340.9 L254.1 341.0 L255.4 341.1 L256.7 341.2 L258.0 341.3 L259.3 341.4 L260.6 341.5 L261.9 341.6 L263.1 341.7 L264.4 341.8 L265.7 341.8 L267.0 341.9 L268.3 342.0 L269.6 342.1 L270.9 342.2 L272.2 342.2 L273.5 342.3 L274.8 342.4 L276.1 342.5 L277.4 342.5 L278.7 342.6 L280.0 342.7 L281.3 342.7 L282.6 342.8 L283.9 342.9 L285.1 342.9 L286.4 343.0 L287.7 343.0 L289.0 343.1 L290.3 343.1 L291.6 343.2 L292.9 343.2 L294.2 343.3 L295.5 343.3 L296.8 343.3 L298.1 343.4 L299.4 343.4 L300.7 343.4 L302.0 343.5 L303.3 343.5 L304.6 343.5 L305.9 343.5 L307.2 343.6 L308.5 343.6 L309.8 343.6 L311.0 343.6 L312.3 343.6 L313.6 343.6 L314.9 343.6 L316.2 343.6 L317.5 343.6 L318.8 343.6 L320.1 343.6 L321.4 343.6 L322.7 343.6 L324.0 343.5 L325.3 343.5 L326.6 343.5 L327.9 343.5 L329.2 343.4 L330.5 343.4 L331.8 343.4 L333.1 343.3 L334.4 343.3 L335.7 343.3 L337.0 343.2 L338.3 343.2 L339.6 343.1 L340.9 343.1 L342.2 343.0 L343.5 343.0 L344.8 342.9 L346.1 342.9 L347.4 342.8 L348.7 342.8 L350.0 342.7 L351.3 342.6 L352.6 342.6 L353.9 342.5 L355.2 342.5 L356.5 342.4 L357.8 342.3 L359.1 342.3 L360.4 342.2 L361.7 342.1 L363.0 342.1 L364.3 342.0 L365.6 341.9 L366.9 341.8 L368.2 341.8 L369.5 341.7 L370.8 341.6 L372.1 341.6 L373.4 341.5 L374.7 341.4 L376.0 341.3 L377.3 341.3 L378.6 341.2 L379.9 341.1 L381.2 341.0 L382.6 341.0 L383.9 340.9 L385.2 340.8 L386.5 340.8 L387.8 340.7 L389.1 340.6 L390.4 340.6 L391.7 340.5 L393.0 340.4 L394.3 340.4 L395.6 340.3 L396.9 340.2 L398.2 340.2 L399.5 340.1 L400.8 340.1 L402.1 340.0 L403.4 339.9 L404.7 339.9 L406.0 339.8 L407.3 339.8 L408.6 339.7 L409.9 339.7 L411.2 339.6 L412.5 339.6 L413.8 339.6 L415.1 339.5 L416.4 339.5 L417.7 339.5 L419.0 339.4 L420.3 339.4 L421.6 339.4 L423.0 339.3 L424.3 339.3 L425.6 339.3 L426.9 339.3 L428.2 339.3 L429.5 339.3 L430.8 339.3 L432.1 339.3 L433.4 339.3 L434.7 339.3 L436.0 339.3 L437.3 339.3 L438.6 339.3 L439.9 339.3 L441.2 339.3 L442.5 339.3 L443.8 339.4 L445.1 339.4 L446.4 339.4 L447.7 339.5 L449.0 339.5 L450.3 339.6 L451.6 339.6 L452.9 339.6 L454.2 339.7 L455.5 339.8 L456.8 339.8 L458.1 339.9 L459.4 339.9 L460.7 340.0 L462.0 340.1 L463.3 340.2 L464.6 340.2 L465.9 340.3 L467.2 340.4 L468.5 340.5 L469.8 340.6 L471.1 340.7 L472.4 340.8 L473.7 340.9 L475.0 341.0 L476.2 341.1 L477.5 341.2 L478.8 341.4 L480.1 341.5 L481.4 341.6 L482.7 341.7 L484.0 341.9 L485.3 342.0 L486.6 342.2 L487.9 342.3 L489.2 342.5 L490.5 342.6 L491.7 342.8 L493.0 342.9 L494.3 343.1 L495.6 343.3 L496.9 343.4 L498.2 343.6 L499.5 343.8 L500.7 344.0 L502.0 344.2 L503.3 344.4 L504.6 344.6 L505.9 344.8 L507.2 345.0 L508.4 345.2 L509.7 345.4 L511.0 345.6 L512.3 345.8 L513.6 346.1 L514.8 346.3 L516.1 346.5 L517.4 346.8 L518.7 347.0 L519.9 347.2 L521.2 347.5 L522.5 347.7 L523.7 348.0 L525.0 348.3 L526.3 348.5 L527.6 348.8 L528.8 349.1 L530.1 349.4 L531.4 349.6 L532.6 349.9 L533.9 350.2 L535.2 350.5 L536.4 350.8 L537.7 351.1 L538.9 351.4 L540.2 351.8 L541.5 352.1 L542.7 352.4 L544.0 352.7 L545.2 353.1 L546.5 353.4 L547.7 353.7 L549.0 354.1 L550.2 354.4 L551.5 354.8 L552.8 355.2 L554.0 355.5 L555.2 355.9 L556.5 356.3 L557.7 356.6 L559.0 357.0 L560.2 357.4 L561.5 357.8 L562.7 358.2 L564.0 358.6 L565.2 358.9 L566.5 359.3 L567.7 359.7 L568.9 360.1 L570.2 360.5 L571.4 360.9 L572.7 361.3 L573.9 361.7 L575.1 362.1 L576.4 362.6 L577.6 363.0 L578.9 363.4 L580.1 363.8 L581.3 364.2 L582.6 364.6 L583.8 365.0 L585.1 365.4 L586.3 365.8 L587.5 366.2 L588.8 366.6 L590.0 367.0 L591.3 367.4 L592.5 367.8 L593.7 368.2 L595.0 368.6 L596.2 369.0 L597.5 369.4 L598.7 369.8 L600.0 370.2 L601.2 370.6 L602.5 371.0 L603.7 371.3 L604.9 371.7 L606.2 372.1 L607.4 372.5 L608.7 372.8 L609.9 373.2 L611.2 373.5 L612.4 373.9 L613.7 374.2 L615.0 374.6 L616.2 374.9 L617.5 375.3 L618.7 375.6 L620.0 375.9 L621.2 376.2 L622.5 376.5 L623.8 376.8 L625.0 377.1 L626.3 377.4 L627.6 377.7 L628.8 378.0 L630.1 378.3 L631.4 378.5 L632.6 378.8 L633.9 379.1 L635.2 379.3 L636.5 379.6 L637.7 379.8 L639.0 380.1 L640.3 380.3 L641.6 380.6 L642.9 380.8 L644.1 381.0 L645.4 381.3 L646.7 381.5 L648.0 381.8 L649.3 382.0 L650.5 382.2 L651.8 382.4 L653.1 382.7 L654.4 382.9 L655.7 383.1 L656.9 383.4 L658.2 383.6 L659.5 383.8 L660.8 384.1 L662.1 384.3 L663.3 384.6 L664.6 384.8 L665.9 385.0 L667.2 385.3 L668.4 385.5 L669.7 385.8 L671.0 386.0" stroke="#0f8a8a"/>
</g>
<g stroke="#0d0d0d" stroke-width="1.35" fill="none" shape-rendering="auto">
<path d="M57.6 6.6V447.3H671.7V6.6"/>
<path d="M57.6 6.6H671.7"/>
<path d="M51.3 447.3H57.6"/>
<path d="M51.3 337.1H57.6"/>
<path d="M51.3 226.8H57.6"/>
<path d="M51.3 116.6H57.6"/>
<path d="M51.3 6.3H57.6"/>
<path d="M133.3 447.3V453.8"/>
<path d="M240.9 447.3V453.8"/>
<path d="M348.5 447.3V453.8"/>
<path d="M456.1 447.3V453.8"/>
<path d="M563.7 447.3V453.8"/>
<path d="M671.3 447.3V453.8"/>
</g>
<g font-family="Liberation Sans, sans-serif" font-size="17.5" fill="#111">
<text x="45.3" y="453.1" text-anchor="end" font-size="17">0</text>
<text x="45.3" y="342.9" text-anchor="end" font-size="17">1</text>
<text x="45.3" y="232.6" text-anchor="end" font-size="17">2</text>
<text x="45.3" y="122.4" text-anchor="end" font-size="17">3</text>
<text x="45.3" y="12.1" text-anchor="end" font-size="17">4</text>
<text x="133.3" y="476.0" text-anchor="middle">400</text>
<text x="240.9" y="476.0" text-anchor="middle">500</text>
<text x="348.5" y="476.0" text-anchor="middle">600</text>
<text x="456.1" y="476.0" text-anchor="middle">700</text>
<text x="563.7" y="476.0" text-anchor="middle">800</text>
<text x="671.3" y="476.0" text-anchor="middle">900</text>
</g>
<text transform="translate(15.8 226) rotate(-90)" text-anchor="middle" font-family="Liberation Sans, sans-serif" font-size="20" letter-spacing="0.45" fill="#111">Absorbance</text>
<text transform="translate(334.6 515.6) scale(1.2 1)" font-family="Liberation Serif, serif" font-size="20" fill="#111">λ</text>
<text x="352.0" y="515.8" font-family="Liberation Sans, sans-serif" font-size="20" letter-spacing="1.1" fill="#111">[nm]</text>
<defs><linearGradient id="bgG" x1="0" y1="0" x2="0" y2="1"><stop offset="0" stop-color="#8e90b0"/><stop offset="0.7" stop-color="#9698b8"/><stop offset="1" stop-color="#a4a6c6"/></linearGradient>
<linearGradient id="lq1" x1="0" y1="0" x2="0" y2="1"><stop offset="0" stop-color="#a3a4a0"/><stop offset="0.45" stop-color="#9b9a95"/><stop offset="1" stop-color="#948f89"/></linearGradient>
<linearGradient id="lq1e" x1="0" y1="0" x2="1" y2="0"><stop offset="0" stop-color="#8a7558" stop-opacity="0.75"/><stop offset="0.13" stop-color="#8a7558" stop-opacity="0.25"/><stop offset="0.3" stop-color="#8a7558" stop-opacity="0"/><stop offset="0.85" stop-color="#ffffff" stop-opacity="0"/><stop offset="1" stop-color="#5a5a60" stop-opacity="0.15"/></linearGradient>
<linearGradient id="lq2" x1="0" y1="0" x2="0" y2="1"><stop offset="0" stop-color="#667278"/><stop offset="0.35" stop-color="#60676b"/><stop offset="1" stop-color="#5d5f63"/></linearGradient>
<linearGradient id="gl" x1="0" y1="0" x2="1" y2="0"><stop offset="0" stop-color="#9090ae"/><stop offset="0.45" stop-color="#9898b5"/><stop offset="1" stop-color="#9090ae"/></linearGradient>
<clipPath id="phc"><rect x="475.5" y="66.5" width="133.0" height="151.0"/></clipPath></defs>
<g clip-path="url(#phc)">
<rect x="475.5" y="66.5" width="133.0" height="151.0" fill="url(#bgG)"/>
<g filter="url(#bl)">
<rect x="474" y="205" width="136" height="14" fill="#b2b4d0"/>
<path d="M479.5 93 L479.5 202 Q479.5 209.5 486.5 209.5 L532.3 209.5 Q539.3 209.5 539.3 202 L539.3 100 Q539.3 93 534.3 93 Z" fill="url(#gl)"/>
<rect x="486.1" y="99" width="1.2" height="55" fill="#ffffff" opacity="0.06"/>
<rect x="492.8" y="99" width="1.2" height="55" fill="#ffffff" opacity="0.06"/>
<rect x="499.4" y="99" width="1.2" height="55" fill="#ffffff" opacity="0.06"/>
<rect x="506.1" y="99" width="1.2" height="55" fill="#ffffff" opacity="0.06"/>
<rect x="512.7" y="99" width="1.2" height="55" fill="#ffffff" opacity="0.06"/>
<rect x="519.4" y="99" width="1.2" height="55" fill="#ffffff" opacity="0.06"/>
<rect x="526.0" y="99" width="1.2" height="55" fill="#ffffff" opacity="0.06"/>
<rect x="532.7" y="99" width="1.2" height="55" fill="#ffffff" opacity="0.06"/>
<path d="M479.9 95 L479.9 202 Q479.9 209.5 486.5 209.5 L532.3 209.5 Q538.9 209.5 538.9 202 L538.9 100 Q538.9 93 534.3 93" fill="none" stroke="#76768e" stroke-width="0.8" opacity="0.6"/>
<path d="M480.1 155.8 L538.7 155.8 L538.7 199 Q538.7 206 532.3 206 L486.5 206 Q480.1 206 480.1 199 Z" fill="url(#lq1)"/>
<path d="M480.1 155.8 L538.7 155.8 L538.7 199 Q538.7 206 532.3 206 L486.5 206 Q480.1 206 480.1 199 Z" fill="url(#lq1e)"/>
<rect x="480.5" y="154.9" width="57.8" height="1.8" fill="#c6c6d4" opacity="0.9"/>
<path d="M480.5 199 Q480.5 207.6 487.5 207.6 L531.3 207.6 Q538.3 207.6 538.3 199" fill="none" stroke="#d2d2e0" stroke-width="2.0"/>
<rect x="480.5" y="92" width="57.8" height="9" fill="#a4a6bf" opacity="0.8"/>
<path d="M479.5 92.5 L479.5 79 Q479.5 71.5 488.0 71.5 L531.5 71.5 Q540.0 71.5 540.0 79 L540.0 92.5 Z" fill="#a3a5be" stroke="#b4b6cc" stroke-width="1"/>
<path d="M480.5 77 Q480.5 72.8 488.0 72.8 L531.5 72.8 Q539.0 72.8 539.0 77" fill="none" stroke="#b0b2ca" stroke-width="2.2"/>
<rect x="480.0" y="83.5" width="59.5" height="1.3" fill="#b0b2c8"/>
<rect x="480.0" y="88" width="59.5" height="1" fill="#b0b2c8" opacity="0.7"/>
<rect x="480.0" y="91.6" width="59.5" height="1.4" fill="#aaacc4"/>
<ellipse cx="504.6" cy="96.4" rx="14" ry="1.8" fill="#c8c8d8"/>
<path d="M540.8 93 L540.8 202 Q540.8 209.5 547.8 209.5 L592.6 209.5 Q599.6 209.5 599.6 202 L599.6 100 Q599.6 93 594.6 93 Z" fill="url(#gl)"/>
<rect x="547.3" y="99" width="1.2" height="55" fill="#ffffff" opacity="0.06"/>
<rect x="553.9" y="99" width="1.2" height="55" fill="#ffffff" opacity="0.06"/>
<rect x="560.4" y="99" width="1.2" height="55" fill="#ffffff" opacity="0.06"/>
<rect x="566.9" y="99" width="1.2" height="55" fill="#ffffff" opacity="0.06"/>
<rect x="573.5" y="99" width="1.2" height="55" fill="#ffffff" opacity="0.06"/>
<rect x="580.0" y="99" width="1.2" height="55" fill="#ffffff" opacity="0.06"/>
<rect x="586.5" y="99" width="1.2" height="55" fill="#ffffff" opacity="0.06"/>
<rect x="593.1" y="99" width="1.2" height="55" fill="#ffffff" opacity="0.06"/>
<path d="M541.2 95 L541.2 202 Q541.2 209.5 547.8 209.5 L592.6 209.5 Q599.2 209.5 599.2 202 L599.2 100 Q599.2 93 594.6 93" fill="none" stroke="#76768e" stroke-width="0.8" opacity="0.6"/>
<path d="M541.4 158.3 L599.0 158.3 L599.0 199 Q599.0 206 592.6 206 L547.8 206 Q541.4 206 541.4 199 Z" fill="url(#lq2)"/>
<rect x="541.8" y="157.4" width="56.8" height="1.8" fill="#c6c6d4" opacity="0.9"/>
<path d="M541.8 199 Q541.8 207.6 548.8 207.6 L591.6 207.6 Q598.6 207.6 598.6 199" fill="none" stroke="#d2d2e0" stroke-width="2.0"/>
<rect x="541.8" y="92" width="56.8" height="9" fill="#a4a6bf" opacity="0.8"/>
<path d="M541.5 92.5 L541.5 79 Q541.5 71.5 550.0 71.5 L594.0 71.5 Q602.5 71.5 602.5 79 L602.5 92.5 Z" fill="#a3a5be" stroke="#b4b6cc" stroke-width="1"/>
<path d="M542.5 77 Q542.5 72.8 550.0 72.8 L594.0 72.8 Q601.5 72.8 601.5 77" fill="none" stroke="#b0b2ca" stroke-width="2.2"/>
<rect x="542.0" y="83.5" width="60.0" height="1.3" fill="#b0b2c8"/>
<rect x="542.0" y="88" width="60.0" height="1" fill="#b0b2c8" opacity="0.7"/>
<rect x="542.0" y="91.6" width="60.0" height="1.4" fill="#aaacc4"/>
<ellipse cx="565.5" cy="96.4" rx="14" ry="1.8" fill="#c8c8d8"/>
</g>
</g>
<rect x="475.45" y="66.55" width="133.40" height="151.00" fill="none" stroke="#bf5a0c" stroke-width="2.5"/>
<path d="M509.7 181.1L181.5 106.7" stroke="#99542a" stroke-width="1.8" stroke-dasharray="6.3 4.35" fill="none"/>
<path d="M572.0 180.8L268.5 302.7" stroke="#99542a" stroke-width="1.8" stroke-dasharray="6.4 4.4" fill="none"/>
<path d="M509.7 181.1L181.5 106.7" stroke="#b9561a" stroke-width="1.8" stroke-dasharray="6.3 4.35" fill="none" clip-path="url(#phc)"/>
<path d="M572.0 180.8L268.5 302.7" stroke="#b9561a" stroke-width="1.8" stroke-dasharray="6.4 4.4" fill="none" clip-path="url(#phc)"/>
<path d="M176.3 105.5L182.7 110.5L182.5 106.9L184.3 103.7Z" fill="#8a4516"/>
<path d="M262.3 305.2L270.5 305.7L268.2 302.8L267.9 299.2Z" fill="#8a4516"/>
<path d="M506.2 181.9L509.0 178.2L513.2 180.3L510.4 184.0Z" fill="#b9561a"/>
<path d="M568.7 182.1L570.9 178.0L575.3 179.5L573.1 183.6Z" fill="#b9561a"/>
<text transform="translate(194.3 101.4) rotate(12.7)" font-family="Liberation Sans, sans-serif" font-size="13.8" fill="#161616" stroke="#161616" stroke-width="0.25" textLength="271" lengthAdjust="spacingAndGlyphs">silver nanocolloids reduced by D-glucose</text>
<g transform="translate(352.6 236.2) rotate(-21)" font-family="Liberation Sans, sans-serif" font-size="13.8" fill="#161616" stroke="#161616" stroke-width="0.25" text-anchor="middle">
<text x="0" y="0" textLength="181" lengthAdjust="spacingAndGlyphs">silver nanocolloids reduced</text>
<text x="0.7" y="19.4" textLength="156" lengthAdjust="spacingAndGlyphs">by D-glucose at high pH</text>
</g>
</svg>
</body></html>
